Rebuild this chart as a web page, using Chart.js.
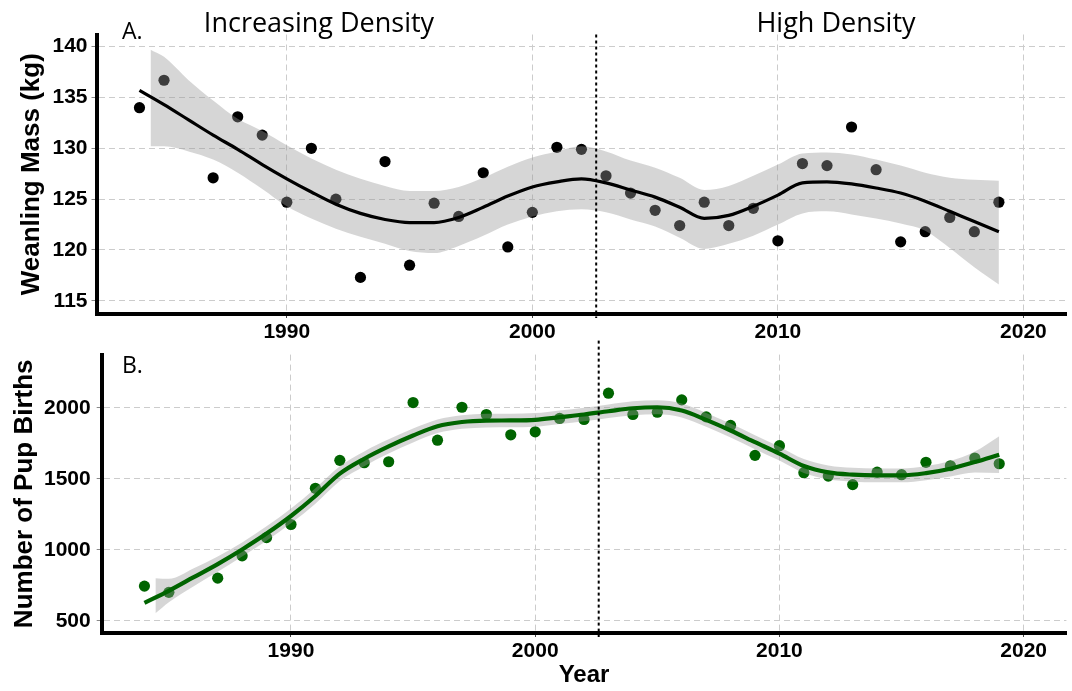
<!DOCTYPE html>
<html>
<head>
<meta charset="utf-8">
<script src="https://cdn.jsdelivr.net/npm/chart.js@4.4.1/dist/chart.umd.min.js"></script>
<style>
  body { margin: 0; background: #fff; }
  #wrap { position: relative; width: 1072px; height: 691px; overflow: hidden; }
  .panel { position: absolute; left: 0; }
</style>
</head>
<body>
<div id="wrap">
  <canvas id="massChart" class="panel" width="1072" height="345" style="top:0"></canvas>
  <canvas id="birthChart" class="panel" width="1072" height="355" style="top:336px"></canvas>
</div>
<script>
// observed years (no record for 1986)
const pointYears = [1984, 1985, 1987, 1988, 1989, 1990, 1991, 1992, 1993, 1994,
  1995, 1996, 1997, 1998, 1999, 2000, 2001, 2002, 2003, 2004,
  2005, 2006, 2007, 2008, 2009, 2010, 2011, 2012, 2013, 2014,
  2015, 2016, 2017, 2018, 2019];

const weanlingMass = [134.0, 136.7, 127.1, 133.1, 131.3, 124.7, 130.0, 125.0, 117.3, 128.7,
  118.5, 124.6, 123.3, 127.6, 120.3, 123.7, 130.1, 129.9, 127.3, 125.6,
  123.9, 122.4, 124.7, 122.4, 124.1, 120.9, 128.5, 128.3, 132.1, 127.9,
  120.8, 121.8, 123.2, 121.8, 124.7];

const pupBirths = [744, 700, 800, 957, 1086, 1178, 1433, 1630, 1613, 1620,
  2037, 1772, 2004, 1953, 1810, 1831, 1925, 1918, 2103, 1953,
  1969, 2056, 1936, 1876, 1665, 1733, 1543, 1519, 1459, 1547,
  1529, 1616, 1592, 1646, 1606];

// smoothed trend
const fitYears = [1984, 1985, 1986, 1987, 1988, 1989, 1990, 1991, 1992, 1993,
  1994, 1995, 1996, 1997, 1998, 1999, 2000, 2001, 2002, 2003,
  2004, 2005, 2006, 2007, 2008, 2009, 2010, 2011, 2012, 2013,
  2014, 2015, 2016, 2017, 2018, 2019];

const massFit = [135.7, 134.3, 132.8, 131.3, 129.9, 128.4, 127.0, 125.7, 124.5, 123.6,
  123.0, 122.7, 122.7, 123.2, 124.2, 125.3, 126.2, 126.7, 127.0, 126.6,
  125.9, 125.2, 124.2, 123.1, 123.4, 124.3, 125.4, 126.6, 126.7, 126.5,
  126.1, 125.6, 124.8, 123.8, 122.8, 121.8];

const birthsFit = [626, 711, 805, 899, 1002, 1114, 1238, 1379, 1536, 1641,
  1728, 1805, 1870, 1900, 1910, 1911, 1915, 1934, 1953, 1976,
  1997, 2004, 1981, 1915, 1840, 1758, 1677, 1590, 1545, 1529,
  1524, 1524, 1540, 1571, 1618, 1670];

// confidence band
const bandYears = [1984.45, 1985, 1986, 1987, 1988, 1989, 1990, 1991, 1992, 1993,
  1994, 1995, 1996, 1997, 1998, 1999, 2000, 2001, 2002, 2003,
  2004, 2005, 2006, 2007, 2008, 2009, 2010, 2011, 2012, 2013,
  2014, 2015, 2016, 2017, 2018, 2019];

const massUpper = [139.7, 139.0, 136.7, 134.7, 132.9, 131.7, 130.3, 129.0, 127.9, 127.0,
  126.3, 125.8, 125.8, 126.2, 127.1, 128.2, 129.1, 129.7, 130.2, 129.7,
  128.8, 128.1, 127.1, 125.9, 126.3, 127.3, 128.4, 129.5, 129.6, 129.4,
  128.9, 128.3, 127.6, 127.1, 126.9, 126.8];
const massLower = [130.2, 130.2, 129.7, 128.9, 127.6, 126.0, 124.3, 123.1, 122.1, 121.3,
  120.6, 119.9, 119.7, 120.4, 121.4, 122.5, 123.3, 123.8, 124.0, 123.7,
  123.0, 122.3, 121.2, 120.1, 120.6, 121.4, 122.5, 123.6, 123.8, 123.5,
  123.1, 122.6, 121.9, 120.2, 118.3, 116.6];

const birthsUpper = [800, 795, 868, 953, 1052, 1165, 1290, 1433, 1588, 1693,
  1778, 1854, 1918, 1948, 1958, 1959, 1963, 1982, 2001, 2024,
  2046, 2053, 2030, 1964, 1889, 1807, 1726, 1639, 1594, 1578,
  1573, 1573, 1590, 1625, 1692, 1800];
const birthsLower = [552, 630, 742, 845, 952, 1063, 1186, 1325, 1484, 1589,
  1678, 1756, 1822, 1852, 1862, 1863, 1867, 1886, 1905, 1928,
  1948, 1955, 1932, 1866, 1791, 1709, 1628, 1541, 1496, 1480,
  1475, 1475, 1490, 1517, 1544, 1540];

const yearTicks = [1990, 2000, 2010, 2020];
const massTicks = [115, 120, 125, 130, 135, 140];
const birthTicks = [500, 1000, 1500, 2000];

const splitYear = 2002.6;

const boldFont = '"Liberation Sans", Arial, sans-serif';
const textFont = '"Open Sans", "Noto Sans", sans-serif';

function toPoints(xs, ys) {
  return xs.map((x, i) => ({ x: x, y: ys[i] }));
}

// dotted divider, panel letter and period headings
const panelDecor = {
  id: 'panelDecor',
  afterDatasetsDraw(chart, args, opts) {
    const { ctx, chartArea, scales } = chart;
    const x = scales.x.getPixelForValue(opts.split);
    ctx.save();
    ctx.strokeStyle = '#000';
    ctx.lineWidth = 2;
    ctx.setLineDash([3, 3]);
    ctx.beginPath();
    ctx.moveTo(x, chartArea.top - opts.lineAbove);
    ctx.lineTo(x, chartArea.bottom + 4);
    ctx.stroke();
    ctx.setLineDash([]);
    ctx.fillStyle = '#000';
    ctx.textBaseline = 'alphabetic';
    ctx.textAlign = 'left';
    ctx.font = '23px ' + textFont;
    ctx.fillText(opts.tag.text, opts.tag.x, opts.tag.y);
    ctx.textAlign = 'center';
    ctx.font = '27px ' + textFont;
    (opts.headers || []).forEach(h => ctx.fillText(h.text, h.x, h.y));
    ctx.restore();
  }
};

function yearAxis(height, title) {
  return {
    type: 'linear',
    min: 1982.25,
    max: 2021.75,
    afterBuildTicks: s => { s.ticks = yearTicks.map(v => ({ value: v })); },
    afterFit: s => { s.height = height; },
    grid: { color: '#cccccc', lineWidth: 1, tickLength: 4, tickColor: '#444', tickWidth: 1, tickBorderDash: [] },
    border: { color: '#000', width: 4, dash: [6, 4] },
    ticks: {
      color: '#000', padding: 2, maxRotation: 0, autoSkip: false,
      font: { family: boldFont, size: 21, weight: 'bold' },
      callback: v => String(v)
    },
    title: title
  };
}

function valueAxis(min, max, ticks, width, pad, title, titlePad) {
  return {
    min: min,
    max: max,
    afterBuildTicks: s => { s.ticks = ticks.map(v => ({ value: v })); },
    afterFit: s => { s.width = width; },
    grid: { color: '#cccccc', lineWidth: 1, tickLength: 5, tickColor: '#888', tickWidth: 1, tickBorderDash: [] },
    border: { color: '#000', width: 4, dash: [6, 4] },
    ticks: {
      color: '#000', padding: pad,
      font: { family: boldFont, size: 21, weight: 'bold' },
      callback: v => String(v)
    },
    title: {
      display: true, text: title, color: '#000',
      font: { family: boldFont, size: 26, weight: 'bold' },
      padding: { top: titlePad, bottom: 0 }
    }
  };
}

function panelData(fit, upper, lower, obs, colour, lineWidth) {
  return {
    datasets: [
      { data: toPoints(fitYears, fit), borderColor: colour, borderWidth: lineWidth,
        pointRadius: 0, cubicInterpolationMode: 'monotone', order: 0 },
      { data: toPoints(bandYears, upper), borderColor: 'transparent', borderWidth: 0,
        pointRadius: 0, cubicInterpolationMode: 'monotone', order: 1 },
      { data: toPoints(bandYears, lower), borderColor: 'transparent', borderWidth: 0,
        pointRadius: 0, cubicInterpolationMode: 'monotone', order: 1,
        fill: '-1', backgroundColor: 'rgba(153, 153, 153, 0.4)' },
      { data: toPoints(pointYears, obs), showLine: false, pointRadius: 5.6,
        pointBackgroundColor: colour, pointBorderWidth: 0, order: 2 }
    ]
  };
}

new Chart(document.getElementById('massChart'), {
  type: 'line',
  data: panelData(massFit, massUpper, massLower, weanlingMass, '#000', 3.2),
  options: {
    responsive: false,
    animation: false,
    layout: { padding: { top: 34.5, left: 0, right: 0, bottom: 0 } },
    plugins: {
      legend: { display: false },
      tooltip: { enabled: false },
      panelDecor: {
        split: splitYear,
        lineAbove: 0,
        tag: { text: 'A.', x: 122, y: 39 },
        headers: [
          { text: 'Increasing Density', x: 319, y: 32 },
          { text: 'High Density', x: 836, y: 32 }
        ]
      }
    },
    scales: {
      x: yearAxis(31, { display: false }),
      y: valueAxis(113.7, 141.2, massTicks, 96.5, 4, 'Weanling Mass (kg)', 16)
    }
  },
  plugins: [panelDecor]
});

new Chart(document.getElementById('birthChart'), {
  type: 'line',
  data: panelData(birthsFit, birthsUpper, birthsLower, pupBirths, '#006400', 4.2),
  options: {
    responsive: false,
    animation: false,
    layout: { padding: { top: 18, left: 0, right: 0, bottom: 0 } },
    plugins: {
      legend: { display: false },
      tooltip: { enabled: false },
      panelDecor: {
        split: splitYear,
        lineAbove: 14,
        tag: { text: 'B.', x: 122, y: 37 },
        headers: []
      }
    },
    scales: {
      x: yearAxis(58, {
        display: true, text: 'Year', color: '#000',
        font: { family: boldFont, size: 24, weight: 'bold' },
        padding: { top: 0, bottom: 1 }
      }),
      y: valueAxis(413.5, 2375, birthTicks, 101.7, 6, 'Number of Pup Births', 9)
    }
  },
  plugins: [panelDecor]
});
</script>
</body>
</html>
